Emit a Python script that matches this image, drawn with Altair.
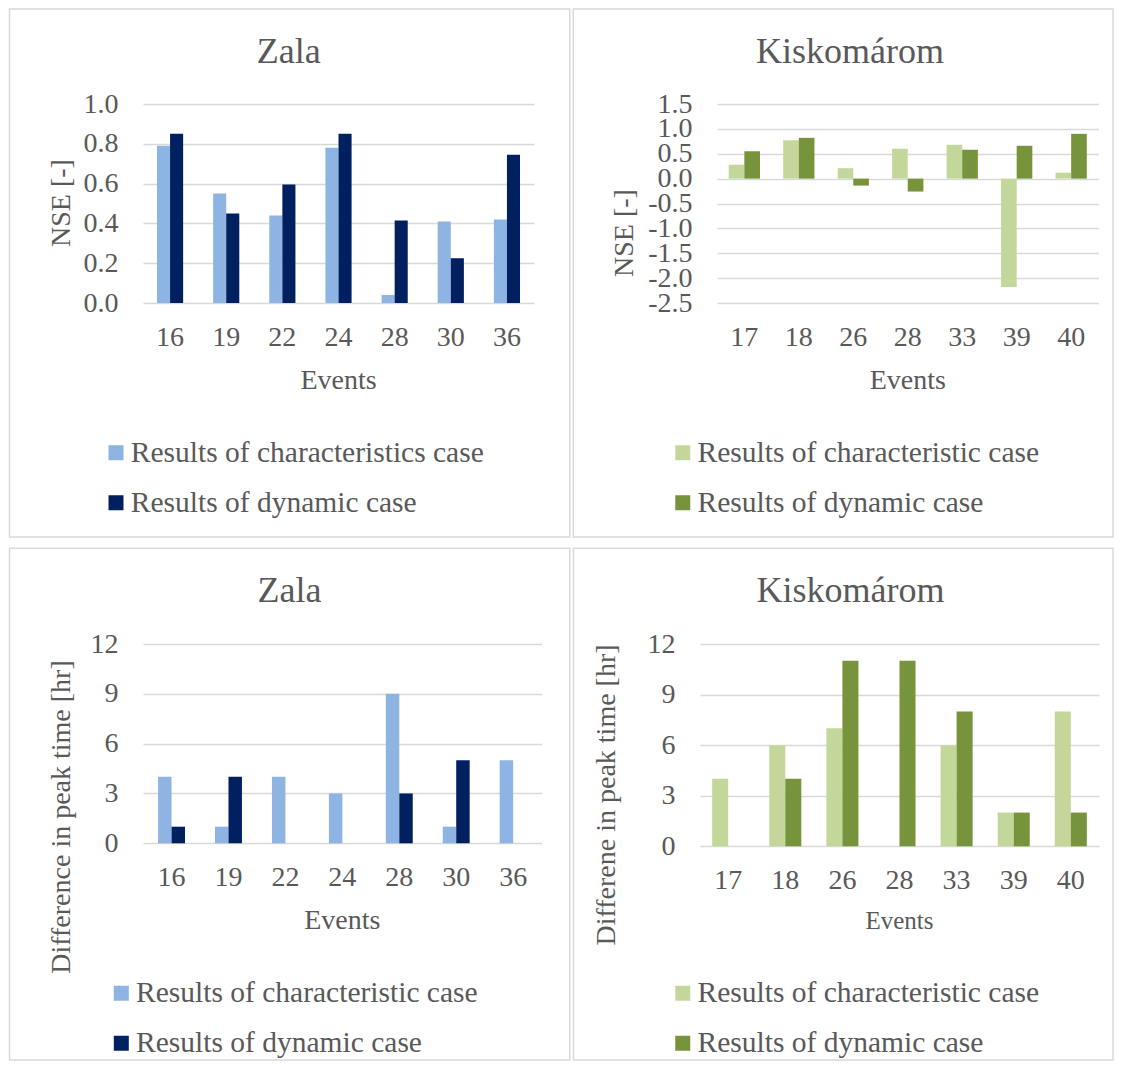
import altair as alt
import pandas as pd

FONT = "Liberation Serif"
TXT = "#595959"
GRID = "#d9d9d9"

# ---------------- data ----------------
zala_events = ["16", "19", "22", "24", "28", "30", "36"]
kis_events = ["17", "18", "26", "28", "33", "39", "40"]

zala_nse_char = [0.79, 0.55, 0.44, 0.78, 0.04, 0.41, 0.42]
zala_nse_dyn = [0.85, 0.45, 0.595, 0.85, 0.415, 0.225, 0.745]

kis_nse_char = [0.28, 0.77, 0.21, 0.60, 0.68, -2.18, 0.12]
kis_nse_dyn = [0.55, 0.82, -0.14, -0.26, 0.58, 0.66, 0.90]

zala_peak_char = [4, 1, 4, 3, 9, 1, 5]
zala_peak_dyn = [1, 4, None, None, 3, 5, None]

kis_peak_char = [4, 6, 7, None, 6, 2, 8]
kis_peak_dyn = [None, 4, 11, 11, 8, 2, 2]

blue_colors = ["#8EB4E3", "#002060"]
green_colors = ["#C4D79B", "#77933C"]


def long_df(events, a, b, names):
    rows = []
    for e, v in zip(events, a):
        rows.append({"event": e, "series": names[0], "value": v})
    for e, v in zip(events, b):
        rows.append({"event": e, "series": names[1], "value": v})
    return pd.DataFrame(rows)


def text_layer(txt, x, y, size, angle=0, baseline="alphabetic"):
    return alt.Chart(pd.DataFrame({"t": [txt]})).mark_text(
        font=FONT, fontSize=size, color=TXT, align="center",
        baseline=baseline, angle=angle,
    ).encode(text="t:N", x=alt.value(x), y=alt.value(y))


def panel(p):
    df = long_df(p["events"], p["char"], p["dyn"], p["names"])
    w, h = p["w"], p["h"]
    yaxis = dict(
        values=p["ticks"], grid=True, gridColor=GRID, gridWidth=1.5,
        domain=False, ticks=False, labelPadding=25, labelFontSize=28,
        labelFont=FONT, labelColor=TXT, labelOverlap=False, title=None,
    )
    if p.get("labelExpr"):
        yaxis["labelExpr"] = p["labelExpr"]
    else:
        yaxis["format"] = p["fmt"]
    bars = alt.Chart(df).mark_bar().encode(
        x=alt.X("event:N", sort=p["events"],
                scale=alt.Scale(paddingInner=p["pi"], paddingOuter=p["po"]),
                axis=alt.Axis(labelAngle=0, domain=False, ticks=False, grid=False,
                              labelPadding=20, labelFontSize=28, labelFont=FONT,
                              labelColor=TXT, title=None)),
        xOffset=alt.XOffset("series:N", sort=p["names"],
                            scale=alt.Scale(domain=p["names"], paddingInner=0,
                                            paddingOuter=0)),
        y=alt.Y("value:Q", scale=alt.Scale(domain=p["domain"], nice=False),
                axis=alt.Axis(**yaxis)),
        color=alt.Color("series:N", sort=p["names"],
                        scale=alt.Scale(domain=p["names"], range=p["colors"]),
                        legend=alt.Legend(orient="none", legendX=p["lx"],
                                          legendY=p["ly"], direction="vertical",
                                          title=None, symbolType="square",
                                          symbolSize=225, symbolStrokeWidth=0,
                                          labelFontSize=29.5, labelFont=FONT,
                                          labelColor=TXT, rowPadding=19,
                                          labelOffset=0, padding=0,
                                          labelLimit=0)),
    )
    title = text_layer(p["title"], p["tx"], p["ty"], 36)
    ytitle = text_layer(p["ytitle"], p["ytx"], p["yty"], 28, angle=270,
                        baseline="middle")
    xtitle = text_layer("Events", w / 2, h + p["xty"], p["xtfs"])
    frame = alt.Chart(pd.DataFrame({"a": [0]})).mark_rect(
        filled=False, stroke=GRID, strokeWidth=1.5
    ).encode(x=alt.value(p["fx"][0]), x2=alt.value(p["fx"][1]),
             y=alt.value(p["fy"][0]), y2=alt.value(p["fy"][1]))
    return alt.layer(frame, bars, title, ytitle, xtitle).properties(width=w, height=h)


names_tl = ["Results of characteristics case", "Results of dynamic case"]
names_ch = ["Results of characteristic case", "Results of dynamic case"]

tl = panel(dict(events=zala_events, char=zala_nse_char, dyn=zala_nse_dyn,
                names=names_tl, colors=blue_colors, w=391, h=199,
                pi=0.534, po=0.249, domain=[0, 1],
                ticks=[0, 0.2, 0.4, 0.6, 0.8, 1.0], fmt=".1f",
                ytitle="NSE [-]", ytx=-81.25, yty=99, xty=86, xtfs=28,
                lx=-41.75, ly=334, title="Zala", tx=145.75, ty=-41,
                fx=(-133.5, 426.75), fy=(-95, 433)))

tr = panel(dict(events=kis_events, char=kis_nse_char, dyn=kis_nse_dyn,
                names=names_ch, colors=green_colors, w=381.5, h=199,
                pi=0.426, po=0.215, domain=[-2.5, 1.5],
                ticks=[-2.5, -2.0, -1.5, -1.0, -0.5, 0, 0.5, 1.0, 1.5],
                labelExpr="(datum.value < 0 ? '-' : '') + format(abs(datum.value), '.1f')",
                ytitle="NSE [-]", ytx=-92, yty=129, xty=86, xtfs=28,
                lx=-49, ly=334, title="Kiskomárom", tx=133, ty=-41,
                fx=(-143.75, 396), fy=(-95, 433)))

bl = panel(dict(events=zala_events, char=zala_peak_char, dyn=zala_peak_dyn,
                names=names_ch, colors=blue_colors, w=398.7, h=199.3,
                pi=0.527, po=0.265, domain=[0, 12],
                ticks=[0, 3, 6, 9, 12], fmt="d",
                ytitle="Difference in peak time [hr]", ytx=-81.45, yty=173,
                xty=86, xtfs=28,
                lx=-36.45, ly=334.5, title="Zala", tx=146.55, ty=-42,
                fx=(-133.5, 426.75), fy=(-95.7, 416)))

br = panel(dict(events=kis_events, char=kis_peak_char, dyn=kis_peak_dyn,
                names=names_ch, colors=green_colors, w=399, h=202.3,
                pi=0.439, po=0.213, domain=[0, 12],
                ticks=[0, 3, 6, 9, 12], fmt="d",
                ytitle="Differene in peak time [hr]", ytx=-93, yty=151,
                xty=83, xtfs=25,
                lx=-32, ly=334.5, title="Kiskomárom", tx=150.5, ty=-42,
                fx=(-126.5, 413), fy=(-95.7, 416)))

chart = alt.concat(
    tl, tr, bl, br, columns=2, align="none",
    spacing={"row": 9, "column": 1},
).resolve_scale(
    color="independent", x="independent", y="independent", xOffset="independent"
).properties(padding=0).configure_view(stroke=None)

chart.save("out.html", embed_options={"renderer": "svg", "actions": False})
